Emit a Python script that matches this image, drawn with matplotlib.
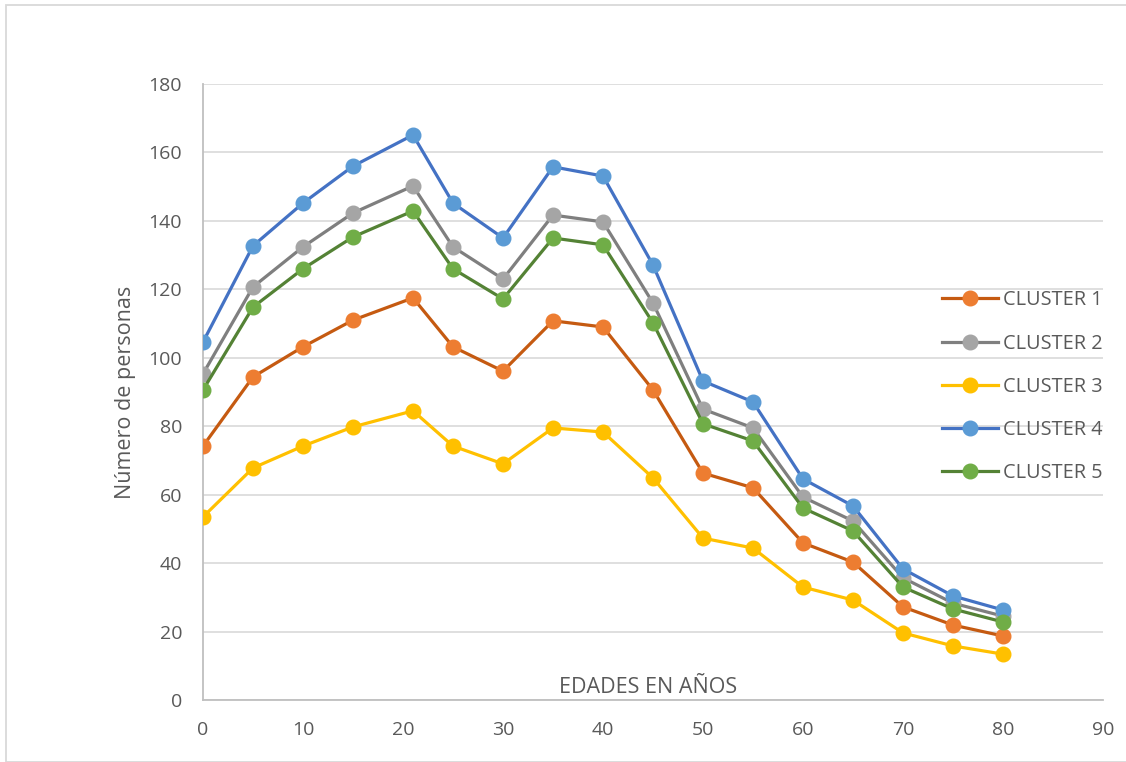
import matplotlib.pyplot as plt
from matplotlib.patches import Rectangle

plt.rcParams['font.family'] = ['Open Sans', 'DejaVu Sans']

# ---- Data ----
edades = [0, 5, 10, 15, 21, 25, 30, 35, 40, 45, 50, 55, 60, 65, 70, 75, 80]

cluster_1 = [74.2, 94.4, 103.2, 111.0, 117.5, 103.2, 96.1, 110.8, 109.0, 90.6,
             66.3, 62.0, 45.9, 40.3, 27.2, 21.9, 18.7]
cluster_2 = [95.3, 120.7, 132.4, 142.3, 150.2, 132.4, 123.0, 141.7, 139.7, 116.0,
             85.0, 79.5, 59.3, 52.3, 35.7, 28.3, 24.5]
cluster_3 = [53.5, 67.8, 74.2, 79.8, 84.5, 74.2, 69.0, 79.5, 78.3, 64.9,
             47.3, 44.4, 33.0, 29.2, 19.6, 15.8, 13.4]
cluster_4 = [104.6, 132.7, 145.2, 156.0, 165.1, 145.2, 135.0, 155.8, 153.1, 127.1,
             93.2, 87.1, 64.6, 56.7, 38.3, 30.4, 26.3]
cluster_5 = [90.6, 114.8, 126.0, 135.3, 142.9, 126.0, 117.2, 135.0, 133.0, 110.2,
             80.7, 75.7, 56.1, 49.4, 33.0, 26.6, 22.8]

labels = ["CLUSTER 1", "CLUSTER 2", "CLUSTER 3", "CLUSTER 4", "CLUSTER 5"]
series = [cluster_1, cluster_2, cluster_3, cluster_4, cluster_5]

# line colour, marker colour (Excel style)
line_colors = ["#C55A11", "#7F7F7F", "#FFC000", "#4472C4", "#548235"]
marker_colors = ["#ED7D31", "#A5A5A5", "#FFC000", "#5B9BD5", "#70AD47"]

x_ticks = list(range(0, 91, 10))
y_ticks = list(range(0, 181, 20))

# ---- Plot ----
fig = plt.figure(figsize=(11.26, 7.62), dpi=100)
ax = fig.add_axes([203 / 1126, 1 - 700 / 762, 900 / 1126, 616 / 762])

for vals, lab, lc, mc in zip(series, labels, line_colors, marker_colors):
    ax.plot(edades, vals, color=lc, linewidth=2.3, marker='o', markersize=10.5,
            markerfacecolor=mc, markeredgecolor=mc, label=lab, zorder=3)

ax.set_xlim(0, 90)
ax.set_ylim(0, 180)
ax.set_xticks(x_ticks)
ax.set_yticks(y_ticks)
ax.tick_params(length=0, labelsize=14, colors="#595959", pad=15)
ax.grid(axis='y', color="#D9D9D9", linewidth=1.2)
ax.set_axisbelow(True)
for s in ["top", "right"]:
    ax.spines[s].set_visible(False)
for s in ["left", "bottom"]:
    ax.spines[s].set_color("#BFBFBF")
    ax.spines[s].set_linewidth(1.3)

ax.set_ylabel("Número de personas", fontsize=15.5, color="#595959", labelpad=9)
ax.text(0.494, 0.004, "EDADES EN AÑOS", transform=ax.transAxes, ha='center',
        va='bottom', fontsize=15.5, color="#595959")

ax.legend(loc='upper right', bbox_to_anchor=(1.008, 0.678), frameon=False,
          fontsize=14.3, labelcolor="#595959", handlelength=2.8,
          handletextpad=0.25, labelspacing=1.17, borderaxespad=0.0)

# chart area border
fig.patches.append(Rectangle((6 / 1126, 0), 1.2, 1 - 5 / 762, transform=fig.transFigure,
                             fill=False, edgecolor="#D9D9D9", linewidth=1.3))

fig.savefig("out.png", dpi=100)
